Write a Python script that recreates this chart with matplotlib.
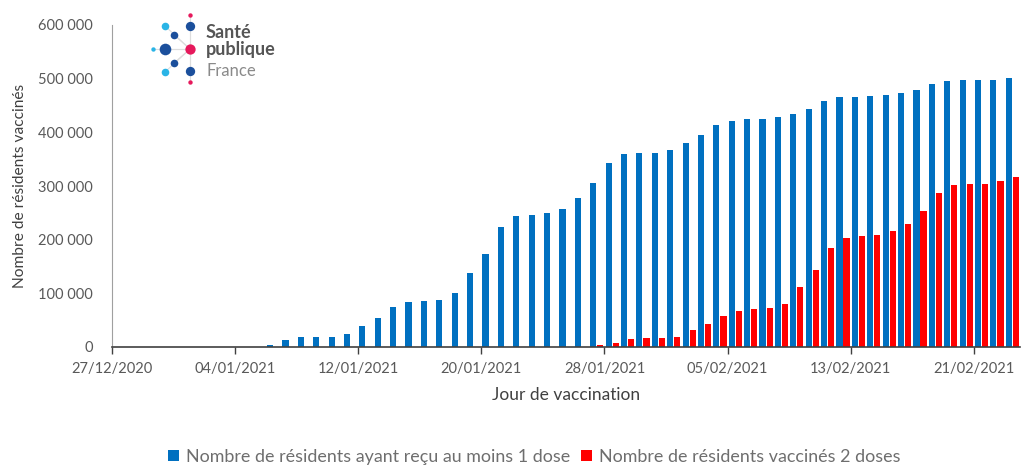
import matplotlib
matplotlib.use("Agg")
import matplotlib.pyplot as plt
import matplotlib.dates as mdates
from matplotlib.ticker import FuncFormatter
import numpy as np
import pandas as pd

# ---- data ----
start_date = "2020-12-27"
n_days = 59
dose1 = [0, 0, 0, 0, 0, 0, 0, 0, 0, 0,
         3000, 12500, 19500, 19000, 19500, 24500, 40000, 54500, 74000, 84000,
         86000, 87000, 100000, 137000, 174000, 223000, 244000, 246000, 250000, 258000,
         278000, 305000, 342000, 359000, 361000, 362000, 368000, 381000, 395000, 414000,
         422000, 425000, 425000, 428000, 435000, 444000, 458000, 466000, 466000, 468000,
         470000, 474000, 479000, 490000, 495000, 497000, 497000, 498000, 502000]
dose2 = [0] * 31 + [3000, 8000, 14000, 16000, 16000, 19000, 31000, 42000,
                    57000, 68000, 70000, 72000, 81000, 111000, 143000, 185000, 204000, 206000,
                    208000, 216000, 230000, 253000, 287000, 302000, 303000, 303000, 309000, 317000]
tick_labels = ["27/12/2020", "04/01/2021", "12/01/2021", "20/01/2021",
               "28/01/2021", "05/02/2021", "13/02/2021", "21/02/2021"]
y_ticks = [0, 100000, 200000, 300000, 400000, 500000, 600000]
series_names = ["Nombre de résidents ayant reçu au moins 1 dose",
                "Nombre de résidents vaccinés 2 doses"]

plt.rcParams['font.family'] = ['Lato', 'DejaVu Sans']
TXT = "#595959"

dates = pd.date_range(start_date, periods=n_days, freq="D")
x = mdates.date2num(dates)

fig = plt.figure(figsize=(10.27, 4.66), dpi=100)
ax = fig.add_axes([112/1027, 1-347/466, (1020-112)/1027, (347-25)/466])

w = 0.40
off = 0.23
ax.bar(x + 0.5 - off, dose1, width=w, color="#0070C0", label=series_names[0], zorder=2)
ax.bar(x + 0.5 + off, dose2, width=w, color="#FF0000", label=series_names[1], zorder=2)

ax.set_xlim(x[0], x[0] + n_days)
ax.set_ylim(0, 600000)
tick_pos = mdates.date2num(pd.to_datetime(tick_labels, format="%d/%m/%Y"))
ax.set_xticks(tick_pos)
ax.set_xticklabels(tick_labels, fontsize=10.5, color=TXT)
ax.set_yticks(y_ticks)
ax.yaxis.set_major_formatter(FuncFormatter(lambda v, p: f"{int(v):,}".replace(",", " ")))
ax.tick_params(axis='y', length=0, labelsize=10.5, labelcolor=TXT, pad=14)
ax.tick_params(axis='x', length=5, width=1, color="#404040", pad=6)

for s in ["top", "right"]:
    ax.spines[s].set_visible(False)
ax.spines["left"].set_color("#A0A0A0")
ax.spines["bottom"].set_color("#404040")
ax.spines["bottom"].set_linewidth(1.2)

ax.set_xlabel("Jour de vaccination", fontsize=12.5, color="#404040", labelpad=8)
ax.set_ylabel("Nombre de résidents vaccinés", fontsize=11.2, color="#404040", labelpad=8)

leg = fig.legend(loc="center", bbox_to_anchor=(534/1027, 1-457/466), ncol=2, frameon=False,
                 fontsize=12.9, handlelength=0.6, handleheight=0.6, handletextpad=0.4,
                 columnspacing=0.6)
for t in leg.get_texts():
    t.set_color("#6E6E6E")

# ---- logo (decoration) ----
def fx(px):
    return px / 1027
def fy(py):
    return 1 - py / 466
dark, light, pink = "#1B4F9C", "#2AB4E6", "#E6195C"
cx, cy = 190, 49
for (px, py) in [(190, 15), (190, 26), (165, 26), (174, 35), (153, 49), (165, 49),
                 (174, 63), (165, 72), (190, 71), (190, 82)]:
    fig.add_artist(plt.Line2D([fx(cx), fx(px)], [fy(cy), fy(py)], color="#DDDDDD", lw=0.8))
dots = [((190, 15), pink, 10), ((190, 26), dark, 45), ((165, 26), light, 30),
        ((174, 35), dark, 30), ((153, 49), light, 10), ((165, 49), dark, 70),
        ((190, 49), pink, 55), ((174, 63), dark, 30), ((165, 72), light, 30),
        ((190, 71), dark, 45), ((190, 82), pink, 10)]
for (px, py), c, s in dots:
    fig.add_artist(plt.Line2D([fx(px)], [fy(py)], marker="o", markersize=np.sqrt(s),
                              color=c, markeredgewidth=0, linestyle="none"))
fig.text(fx(206), fy(33), "Santé", fontsize=13, fontweight="bold", color="#555555", va="center")
fig.text(fx(206), fy(50), "publique", fontsize=13, fontweight="bold", color="#555555", va="center")
fig.text(fx(206), fy(71), "France", fontsize=12, color="#8A8A8A", va="center")

fig.savefig("out.png", dpi=100)
